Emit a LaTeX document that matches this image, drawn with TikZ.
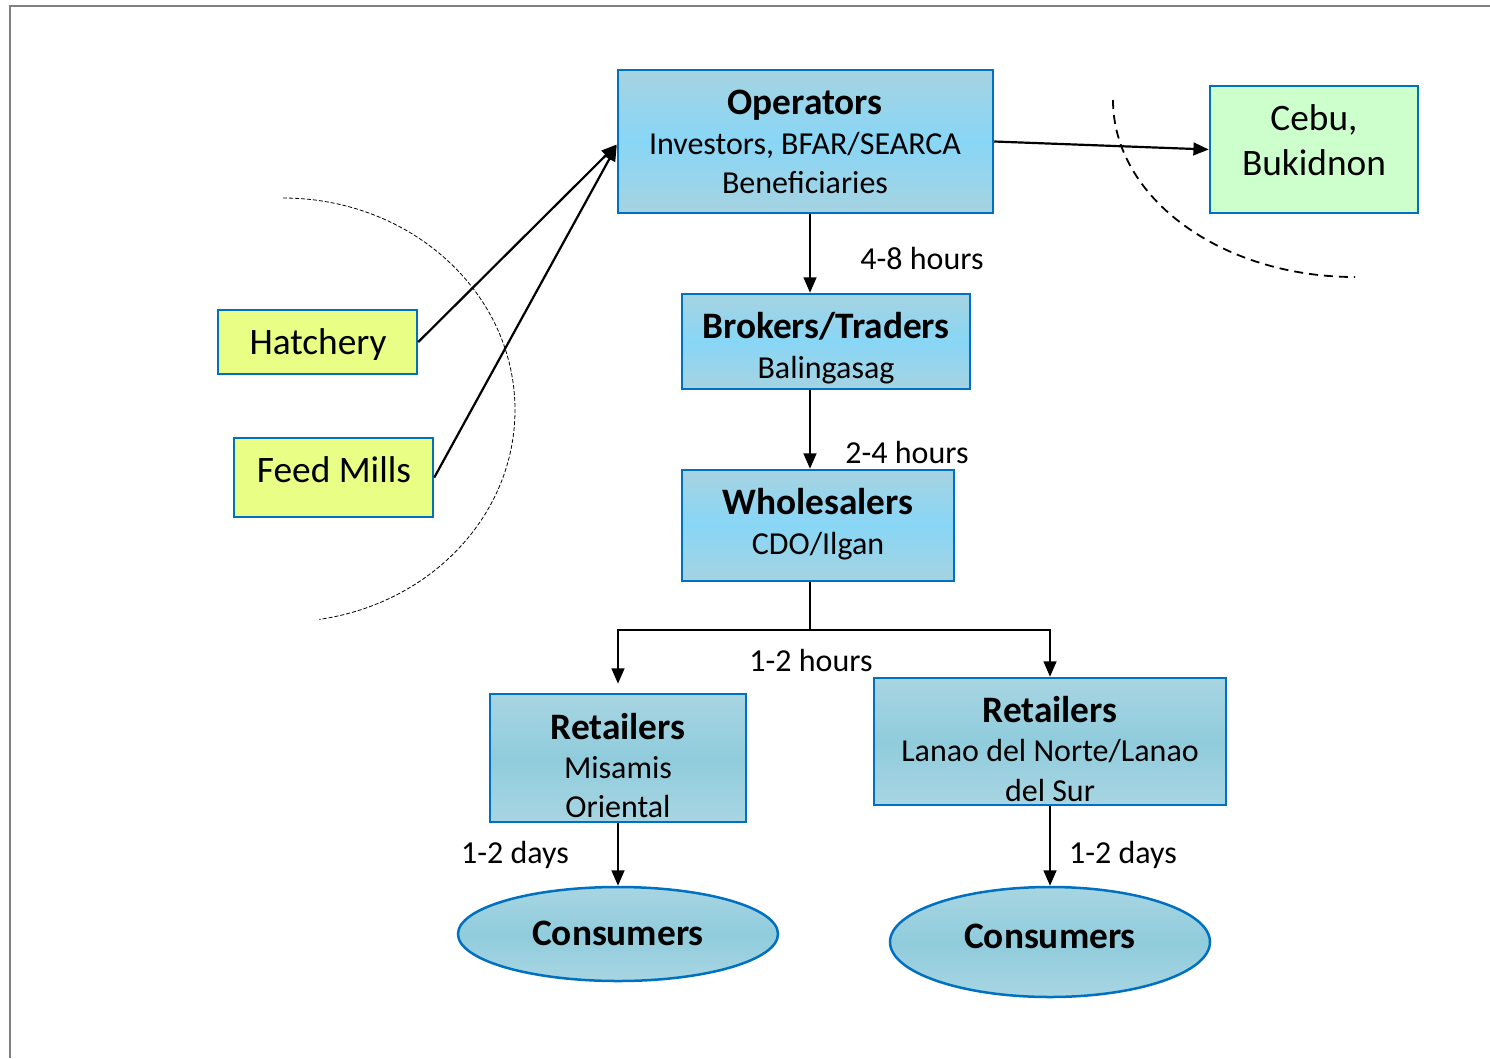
\documentclass[tikz,border=0pt]{standalone}
\usepackage{fontspec}
\setmainfont{Carlito}
\usetikzlibrary{arrows.meta,shapes.geometric,calc}
\newdimen\pxu \pxu=0.75pt
\definecolor{edgeblue}{HTML}{0070C0}
\definecolor{skyA}{HTML}{A6D3E1}
\definecolor{skyB}{HTML}{88D6F6}
\definecolor{tealA}{HTML}{A8D5E2}
\definecolor{tealB}{HTML}{90CCDC}
\definecolor{lime}{HTML}{E9FE84}
\definecolor{mint}{HTML}{CCFFCC}
\definecolor{framegray}{HTML}{808080}
\newcommand\headfont{\fontsize{28}{29.5}\selectfont\bfseries}

\begin{document}
\begin{tikzpicture}[x=0.75pt,y=-0.75pt,
  box/.style={draw=edgeblue, line width=2.5\pxu, inner sep=0pt},
  skybox/.style={box, shading=axis, top color=skyA, bottom color=skyA, middle color=skyB},
  tealbox/.style={box, shading=axis, top color=tealA, bottom color=tealA, middle color=tealB},
  tealoval/.style={tealbox, ellipse},
  limebox/.style={box, fill=lime},
  mintbox/.style={box, fill=mint},
  txt/.style={align=center, inner sep=0pt, font=\fontsize{24}{29.5}\selectfont},
  big/.style={inner sep=0pt, font=\fontsize{28}{34}\selectfont, align=center},
  lbl/.style={inner sep=0pt, font=\fontsize{24}{28}\selectfont},
  flow/.style={line width=2.2\pxu, -{Triangle[length=11.5pt,width=9.5pt]}},
  plain/.style={line width=2.2\pxu}
]
\useasboundingbox (0,0) rectangle (1490,1058);

% page frame
\draw[framegray, line width=2\pxu] (10,1058) -- (10,5.5) -- (1490,5.5);

% boxes
\node[skybox, minimum width=375\pxu, minimum height=143\pxu] (ops) at (805.5,141.5) {};
\node[mintbox, minimum width=208\pxu, minimum height=127\pxu] (cebu) at (1314,149.5) {};
\node[limebox, minimum width=199\pxu, minimum height=64\pxu] (hatch) at (317.5,342) {};
\node[limebox, minimum width=199\pxu, minimum height=79\pxu] (feed) at (333.5,477.5) {};
\node[skybox, minimum width=288\pxu, minimum height=95\pxu] (brk) at (826,341.5) {};
\node[skybox, minimum width=272\pxu, minimum height=111\pxu] (whl) at (818,525.5) {};
\node[tealbox, minimum width=256\pxu, minimum height=128\pxu] (retL) at (618,758) {};
\node[tealbox, minimum width=352\pxu, minimum height=127\pxu] (retR) at (1050,741.5) {};
\node[tealoval, minimum width=320\pxu, minimum height=94\pxu] (conL) at (618,934) {};
\node[tealoval, minimum width=320\pxu, minimum height=110\pxu] (conR) at (1050,942) {};

% box texts
\node[txt] (opsT) at (805,142) {{\headfont Operators}\\Investors, BFAR/SEARCA\\Beneficiaries};
\node[big] (cebuT) at (1314,140) {Cebu,\\Bukidnon};
\node[big] (hatchT) at (318,345) {Hatchery};
\node[big] (feedT) at (334,470) {Feed Mills};
\node[txt] (brkT) at (826,348) {{\headfont Brokers/Traders}\\Balingasag};
\node[txt] (whlT) at (818,524) {{\headfont Wholesalers}\\CDO/Ilgan};
\node[txt] (retLT) at (618,765.5) {{\headfont Retailers}\\Misamis\\Oriental};
\node[txt] (retRT) at (1050,749) {{\headfont Retailers}\\Lanao del Norte/Lanao\\del Sur};
\node[inner sep=0pt, font=\headfont] (conLT) at (618,933) {Consumers};
\node[inner sep=0pt, font=\headfont] (conRT) at (1050,936) {Consumers};

% time labels
\node[lbl] (t1) at (922,258.5) {4-8 hours};
\node[lbl] (t2) at (907,452) {2-4 hours};
\node[lbl] (t3) at (811,660) {1-2 hours};
\node[lbl] (t4) at (515,855) {1-2 days};
\node[lbl] (t5) at (1123,855) {1-2 days};

% market boundaries
\draw[line width=0.8\pxu, dash pattern=on 4\pxu off 2\pxu] (283,198) arc[start angle=90, end angle=-81, x radius=232\pxu, y radius=212\pxu];
\draw[line width=1.8\pxu, dash pattern=on 9\pxu off 6\pxu] (1113,100) arc[start angle=180, end angle=270, x radius=242\pxu, y radius=177\pxu];

% flows
\coordinate (spine) at (810,0);
\coordinate (split) at (810,630);
\draw[flow] (hatch.east) -- ([yshift=-3\pxu]ops.west);
\draw[flow] (feed.east) -- ([yshift=-4\pxu]ops.west);
\draw[flow] (ops.east) -- (cebu.west);
\draw[flow] (ops.south -| spine) -- (brk.north -| spine);
\draw[flow] (brk.south -| spine) -- (whl.north -| spine);
\draw[plain] (whl.south -| spine) -- (split);
\draw[flow] (split) -| ([yshift=9\pxu]retL.north);
\draw[flow] (split) -| (retR.north);
\draw[flow] (retL.south) -- (conL.north);
\draw[flow] (retR.south) -- (conR.north);
\end{tikzpicture}
\end{document}
